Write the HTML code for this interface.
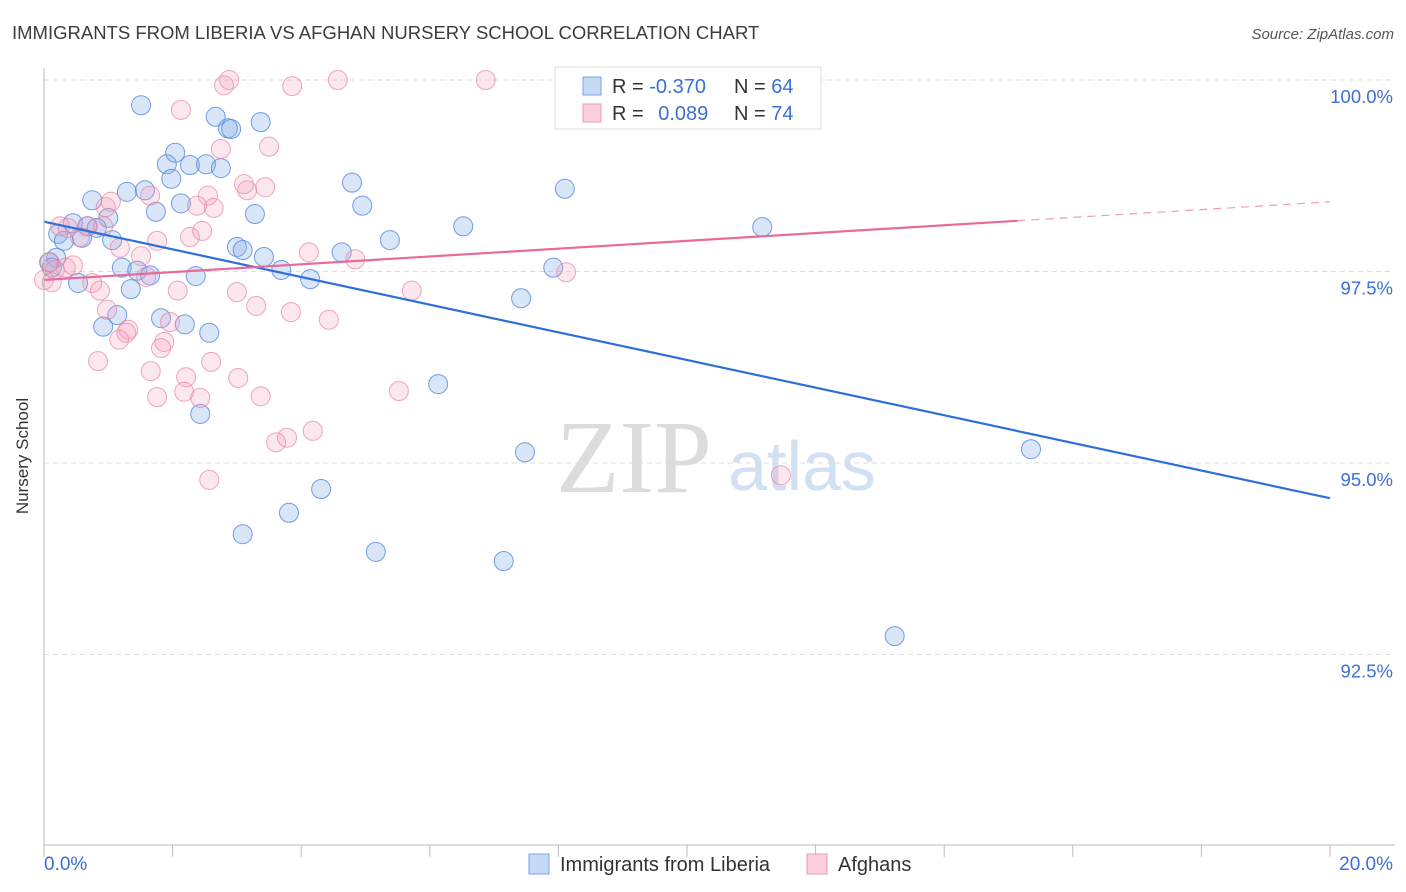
<!DOCTYPE html>
<html><head><meta charset="utf-8"><style>
body{margin:0;background:#fff;font-family:"Liberation Sans",sans-serif}
svg{display:block}
</style></head><body>
<svg id="c" width="1406" height="892">
<text x="12" y="39" font-size="18.5" fill="#3c3c3c">IMMIGRANTS FROM LIBERIA VS AFGHAN NURSERY SCHOOL CORRELATION CHART</text>
<text x="1394" y="39" font-size="15" font-style="italic" fill="#555" text-anchor="end">Source: ZipAtlas.com</text>
<text x="634" y="492" font-size="104" font-family="Liberation Serif,serif" fill="#dcdcdc" text-anchor="middle">ZIP</text>
<text x="802" y="490" font-size="70" fill="#d2e0f4" text-anchor="middle">atlas</text>
<g id="grid"></g><g id="pts"></g><g id="lines"></g>
<line x1="44" y1="68" x2="44" y2="845" stroke="#bbb"/>
<line x1="44" y1="845" x2="1395" y2="845" stroke="#bbb"/>
<text x="28" y="456" font-size="17" fill="#333" text-anchor="middle" transform="rotate(-90 28 456)">Nursery School</text>
<text x="44" y="870" font-size="19" fill="#3b6fd6">0.0%</text>
<text x="1393" y="870" font-size="19" fill="#3b6fd6" text-anchor="end">20.0%</text>
<g>
<rect x="555" y="67" width="266" height="62" fill="#fff" stroke="#ddd"/>
<rect x="583" y="77" width="18" height="18" fill="#c6d9f5" stroke="#7aa3e6"/>
<rect x="583" y="104" width="18" height="18" fill="#fbd0dc" stroke="#ee9ab3"/>
<text x="612" y="93" font-size="20" fill="#333">R = <tspan fill="#3b6fd6">-0.370</tspan></text>
<text x="734" y="93" font-size="20" fill="#333">N = <tspan fill="#3b6fd6">64</tspan></text>
<text x="612" y="120" font-size="20" fill="#333">R = <tspan fill="#3b6fd6" dx="9">0.089</tspan></text>
<text x="734" y="120" font-size="20" fill="#333">N = <tspan fill="#3b6fd6">74</tspan></text>
</g>
<g>
<rect x="529" y="854" width="20" height="20" fill="#c6d9f5" stroke="#7aa3e6"/>
<text x="560" y="871" font-size="20" fill="#333">Immigrants from Liberia</text></g>
<g>
<rect x="807" y="854" width="20" height="20" fill="#fbd0dc" stroke="#ee9ab3"/>
<text x="838" y="871" font-size="20" fill="#333">Afghans</text></g>
</svg>
<script>
const yTicks=[100,97.5,95,92.5];
const yTickLabels=["100.0%","97.5%","95.0%","92.5%"];
const xTicks=[0,2,4,6,8,10,12,14,16,18,20];
const blueX=[1.51,2.67,2.86,2.91,3.37,2.04,1.91,2.27,2.52,2.75,1.98,4.79,8.10,1.29,1.57,0.75,2.13,1.74,4.95,3.28,1.00,0.45,0.68,0.82,6.52,11.17,0.22,0.31,0.59,1.06,5.38,3.00,3.09,4.63,3.42,7.92,1.21,1.45,1.65,3.69,4.14,2.36,0.53,1.35,7.42,1.14,1.82,2.19,0.92,2.57,6.13,2.43,7.48,15.35,4.31,3.81,3.09,5.16,7.15,13.23,9.42,0.19,0.08,0.12];
const blueY=[99.67,99.52,99.37,99.36,99.45,99.05,98.90,98.89,98.90,98.85,98.71,98.66,98.58,98.54,98.56,98.43,98.39,98.28,98.36,98.25,98.20,98.13,98.09,98.07,98.09,98.08,97.99,97.90,97.94,97.91,97.91,97.82,97.78,97.75,97.69,97.55,97.55,97.51,97.45,97.52,97.40,97.44,97.35,97.27,97.15,96.93,96.89,96.81,96.78,96.70,96.03,95.64,95.14,95.18,94.66,94.35,94.07,93.84,93.72,92.74,100.0,97.68,97.62,97.55];
const pinkX=[2.80,2.88,3.86,4.57,6.87,10.42,2.13,2.75,3.50,3.16,3.44,2.55,3.11,1.04,2.64,2.38,0.25,0.37,0.67,0.92,0.56,2.27,2.46,1.18,1.76,4.12,1.51,4.84,0.09,0.17,0.34,0.45,0.0,0.12,0.75,0.87,2.08,3.00,5.72,8.12,1.59,3.30,3.84,4.43,0.98,1.96,1.31,1.17,1.87,1.82,1.28,2.60,0.84,1.66,2.21,3.02,5.52,1.76,2.18,2.43,3.37,3.61,3.78,4.18,2.57,11.46,0.96,1.65];
const pinkY=[99.93,100.0,99.92,100.0,100.0,100.0,99.61,99.10,99.13,98.56,98.60,98.49,98.64,98.41,98.33,98.36,98.09,98.07,98.09,98.09,97.95,97.95,98.03,97.81,97.90,97.75,97.70,97.66,97.62,97.52,97.55,97.58,97.39,97.36,97.35,97.25,97.25,97.23,97.25,97.49,97.43,97.05,96.97,96.87,97.00,96.84,96.74,96.61,96.58,96.50,96.70,96.32,96.33,96.20,96.12,96.11,95.94,95.86,95.93,95.85,95.87,95.27,95.33,95.42,94.78,94.84,98.34,98.49];
const blueTrend=[98.15,94.54];
const pinkTrend=[97.39,98.41];
const pinkSolidEnd=15.14;
const NS="http://www.w3.org/2000/svg";
const sx=v=>44+v*64.3;
const sy=v=>80+(100-v)*76.6;
function mk(tag,attrs,parent){const e=document.createElementNS(NS,tag);for(const k in attrs)e.setAttribute(k,attrs[k]);parent.appendChild(e);return e;}
const grid=document.getElementById('grid'),pts=document.getElementById('pts'),lines=document.getElementById('lines');
yTicks.forEach((t,i)=>{
 const l=mk('line',{x1:44,x2:1393,y1:sy(t),y2:sy(t),stroke:'#ddd','stroke-dasharray':'5,4'},grid);
 
 
 const tx=mk('text',{x:1393,y:sy(t)+23,'font-size':18.5,fill:'#3b6fd6','text-anchor':'end'},grid);
 tx.textContent=yTickLabels[i];
 
 
});
xTicks.forEach(t=>{
 const l=mk('line',{x1:sx(t),x2:sx(t),y1:845,y2:857,stroke:'#bbb'},grid);
 
 
});
blueX.forEach((x,i)=>{
 const c=mk('circle',{cx:sx(x),cy:sy(blueY[i]),r:9.5,fill:'rgba(130,172,232,0.3)',stroke:'rgba(80,135,220,0.8)','stroke-width':1},pts);
 
 
});
pinkX.forEach((x,i)=>{
 const c=mk('circle',{cx:sx(x),cy:sy(pinkY[i]),r:9.5,fill:'rgba(245,160,188,0.25)',stroke:'rgba(232,130,162,0.7)','stroke-width':1},pts);
 
 
});
const bl=mk('line',{x1:sx(0),y1:sy(blueTrend[0]),x2:sx(20),y2:sy(blueTrend[1]),stroke:'#2f6fd8','stroke-width':2.2},lines);


const pm=pinkTrend[0]+(pinkTrend[1]-pinkTrend[0])*pinkSolidEnd/20;
const pl=mk('line',{x1:sx(0),y1:sy(pinkTrend[0]),x2:sx(pinkSolidEnd),y2:sy(pm),stroke:'#e8699a','stroke-width':2.2},lines);


const pd=mk('line',{x1:sx(pinkSolidEnd),y1:sy(pm),x2:sx(20),y2:sy(pinkTrend[1]),stroke:'#e8a0b8','stroke-width':1.2,'stroke-dasharray':'8,6'},lines);


</script>
</body></html>
